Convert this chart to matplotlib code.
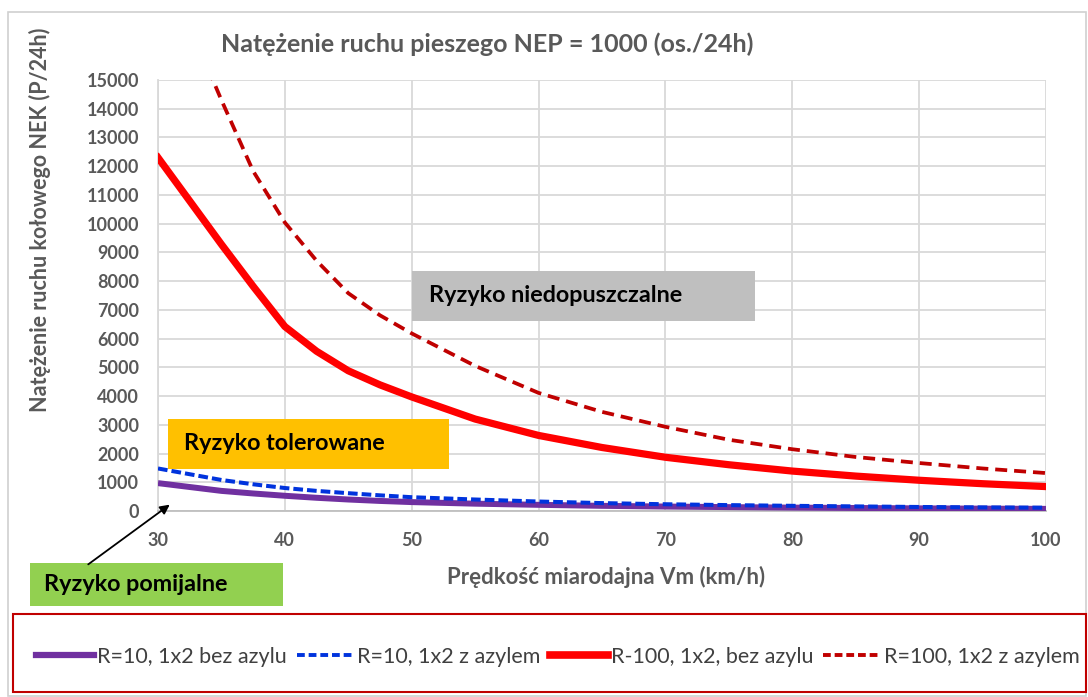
import matplotlib
matplotlib.use("Agg")
import matplotlib.pyplot as plt
from matplotlib.patches import Rectangle, FancyArrowPatch
from matplotlib.lines import Line2D

plt.rcParams['font.family'] = ['Lato', 'DejaVu Sans']

# ---- data ----
speed = [30, 35, 37.5, 40, 42.5, 45, 47.5, 50, 55, 60, 65, 70, 75, 80, 85, 90, 95, 100]
r10_bez = [970, 700, 610, 530, 460, 400, 350, 310, 255, 215, 180, 155, 135, 118, 105, 92, 82, 74]
r10_z = [1480, 1080, 930, 800, 700, 620, 545, 480, 400, 330, 275, 235, 205, 180, 160, 140, 125, 115]
r100_bez = [12300, 9280, 7820, 6420, 5560, 4880, 4390, 3970, 3200, 2630, 2210, 1870, 1610, 1390,
            1215, 1070, 950, 850]
r100_z = [19500, 14300, 11830, 10040, 8710, 7580, 6810, 6180, 5050, 4110, 3450, 2930, 2480, 2150,
          1880, 1670, 1480, 1320]

labels = ["R=10, 1x2 bez azylu", "R=10, 1x2 z azylem",
          "R-100, 1x2, bez azylu", "R=100, 1x2 z azylem"]
title = "Natężenie ruchu pieszego NEP = 1000 (os./24h)"
xlabel = "Prędkość miarodajna Vm (km/h)"
ylabel = "Natężenie ruchu kołowego NEK (P/24h)"
xticks = [30, 40, 50, 60, 70, 80, 90, 100]
yticks = list(range(0, 15001, 1000))

W, H = 1088, 697
fig = plt.figure(figsize=(W / 100, H / 100), dpi=100)

def fx(px):
    return px / W

def fy(py):
    return 1 - py / H

ax = fig.add_axes([fx(158), fy(511), fx(1046) - fx(158), fy(80) - fy(511)])
ax.set_xlim(30, 100)
ax.set_ylim(0, 15000)
ax.set_xticks(xticks)
ax.set_yticks(yticks)
ax.grid(True, color='#D9D9D9', lw=1.3)
ax.set_axisbelow(True)
for s in ['top', 'right']:
    ax.spines[s].set_visible(False)
ax.spines['left'].set_color('#D9D9D9')
ax.spines['bottom'].set_color('#BFBFBF')
ax.spines['left'].set_linewidth(1.3)
ax.spines['bottom'].set_linewidth(1.3)
ax.tick_params(length=0, labelsize=13, labelcolor='#595959')
ax.tick_params(axis='y', pad=13.5)
ax.tick_params(axis='x', pad=15)
for t in ax.get_xticklabels() + ax.get_yticklabels():
    t.set_fontweight('bold')

c_purple = '#7030A0'
c_blue = '#0033DD'
c_red = '#FF0000'
c_dred = '#C00000'

l1, = ax.plot(speed, r10_bez, color=c_purple, lw=4.3, solid_capstyle='butt',
              solid_joinstyle='round', zorder=3)
l2, = ax.plot(speed, r10_z, color=c_blue, lw=2.9, dashes=(2.4, 1.0), zorder=4)
l3, = ax.plot(speed, r100_bez, color=c_red, lw=5.2, solid_joinstyle='round', zorder=3)
l4, = ax.plot(speed, r100_z, color=c_dred, lw=2.7, dashes=(3.2, 1.85), zorder=3)

# title and axis labels
fig.text(fx(487), fy(44), title, ha='center', va='center', fontsize=18,
         fontweight='bold', color='#595959')
fig.text(fx(606), fy(577), xlabel, ha='center', va='center', fontsize=16,
         fontweight='bold', color='#595959')
fig.text(fx(40), fy(220), ylabel, ha='center', va='center', fontsize=15.5,
         fontweight='bold', color='#595959', rotation=90)

# region boxes
def box(x0, y0, x1, y1, color, text, tx):
    fig.patches.append(Rectangle((fx(x0), fy(y1)), fx(x1) - fx(x0), fy(y0) - fy(y1),
                                 transform=fig.transFigure, facecolor=color,
                                 edgecolor='none', zorder=5))
    fig.text(fx(tx), fy((y0 + y1) / 2), text, ha='left', va='center', fontsize=16.8,
             fontweight='bold', color='black', zorder=6)

box(412, 271, 755, 321, '#BFBFBF', "Ryzyko niedopuszczalne", 429)
box(168, 419, 449, 469, '#FFC000', "Ryzyko tolerowane", 184)
box(30, 563, 283, 606, '#92D050', "Ryzyko pomijalne", 44)

arr = FancyArrowPatch((fx(86), fy(566)), (fx(172), fy(503)), transform=fig.transFigure,
                      arrowstyle='-|>', mutation_scale=14, color='black', lw=1.3, zorder=7)
fig.patches.append(arr)

# outer chart border
fig.patches.append(Rectangle((fx(8), fy(696)), fx(1086) - fx(8), fy(12) - fy(696),
                             transform=fig.transFigure, facecolor='none',
                             edgecolor='#D0D0D0', lw=1.2, zorder=1))
# legend border
fig.patches.append(Rectangle((fx(13), fy(692)), fx(1086) - fx(13), fy(614) - fy(692),
                             transform=fig.transFigure, facecolor='white',
                             edgecolor='#C00000', lw=1.5, zorder=2))

handles = [Line2D([], [], color=c_purple, lw=4.5),
           Line2D([], [], color=c_blue, lw=2.8, dashes=(2.0, 1.0)),
           Line2D([], [], color=c_red, lw=5.5),
           Line2D([], [], color=c_dred, lw=2.8, dashes=(2.0, 1.0))]
leg = fig.legend(handles, labels, loc='center', bbox_to_anchor=(fx(558), fy(657)),
                 ncol=4, frameon=False, handlelength=2.7,
                 handletextpad=0.12, columnspacing=0.45,
                 prop={'family': ['Lato'], 'size': 15.5})
for t in leg.get_texts():
    t.set_color('#404040')
leg.set_zorder(8)

fig.savefig('out.png', dpi=100)
